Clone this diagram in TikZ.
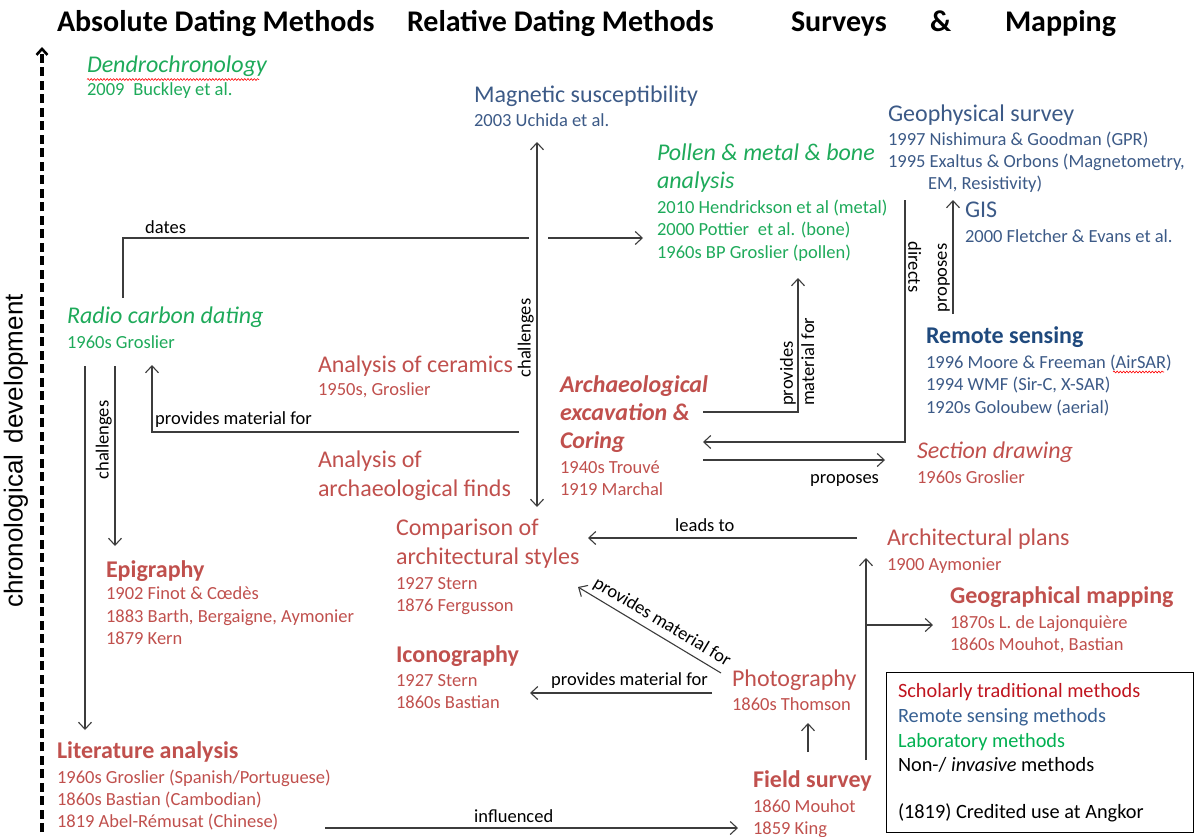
\documentclass[tikz,border=0pt]{standalone}
\usepackage{fontspec}
\setmainfont{Carlito}
\newfontfamily\arialf{Liberation Sans}
\usetikzlibrary{arrows.meta,decorations.pathmorphing}

\definecolor{cred}{RGB}{192,80,77}
\definecolor{cblue}{RGB}{60,90,135}
\definecolor{cdblue}{RGB}{31,73,125}
\definecolor{cgreen}{RGB}{30,170,90}
\definecolor{lred}{RGB}{192,20,30}
\definecolor{lblue}{RGB}{55,96,146}
\definecolor{lgreen}{RGB}{0,176,80}
\definecolor{cline}{RGB}{60,60,60}

\newcommand\fsub{\fontsize{18.5}{22}\selectfont}
\newcommand\fhd{\fontsize{24}{28}\selectfont}
\newcommand\fttl{\fontsize{30}{34}\selectfont\bfseries}
\newcommand\flab{\fontsize{18.5}{22}\selectfont}
\newcommand\fleg{\fontsize{20.3}{24}\selectfont}

\tikzset{
  tl/.style={anchor=base west, inner sep=0pt, outer sep=0pt},
  hd/.style={tl, font=\fhd},
  sb/.style={tl, font=\fsub},
  ttl/.style={tl, font=\fttl},
  lg/.style={tl, font=\fleg},
  lab/.style={font=\flab, text=black, inner sep=0pt},
  conn/.style={draw=cline, line width=1.1pt, -{Straight Barb[length=7pt,width=13pt]}},
  dconn/.style={draw=cline, line width=1.1pt, {Straight Barb[length=7pt,width=13pt]}-{Straight Barb[length=7pt,width=13pt]}},
  plain/.style={draw=cline, line width=1.1pt},
  spell/.style={draw=red, line width=0.6pt, decorate, decoration={snake, amplitude=0.9pt, segment length=3.2pt}}
}

\begin{document}
\begin{tikzpicture}[x=1pt,y=-1pt]
\useasboundingbox (0,0) rectangle (1194,836);

% titles
\node[ttl] (t1) at (57,31) {Absolute Dating Methods};
\node[ttl] (t2) at (407,31) {Relative Dating Methods};
\node[ttl] (t3) at (791,31) {Surveys};
\node[ttl] (t4) at (930,31) {\&};
\node[ttl] (t5) at (1005,31) {Mapping};

% time axis
\coordinate (ax0) at (42,832);
\coordinate (ax1) at (42,47);
\draw[line width=3.4pt, dash pattern=on 9pt off 4.5pt, -{Straight Barb[length=6pt,width=11pt,line width=2.6pt]}] (ax0) -- (ax1);
\node[rotate=90, font=\arialf\fontsize{26}{30}\selectfont, inner sep=0pt] (chrono) at (16,451) {chronological\hspace{0.45em}development};

% Absolute dating
\node[hd, text=cgreen, font=\fhd\itshape] (dendro) at (87,72) {Dendrochronology};
\node[sb, text=cgreen] (dendror) at (87,95) {2009\hspace{0.25em} Buckley et al.};
\draw[spell] (87,79.5) -- (259,79.5);

\node[hd, text=cgreen, font=\fhd\itshape] (radio) at (67,323) {Radio carbon dating};
\node[sb, text=cgreen] (radior) at (67,348) {1960s Groslier};

\node[hd, text=cred, font=\fhd\bfseries] (epi) at (106,577) {Epigraphy};
\node[sb, text=cred] (epi1) at (106,599) {1902 Finot \& Cœdès};
\node[sb, text=cred] (epi2) at (106,622) {1883 Barth, Bergaigne, Aymonier};
\node[sb, text=cred] (epi3) at (106,644) {1879 Kern};

\node[hd, text=cred, font=\fhd\bfseries] (lit) at (57,758) {Literature analysis};
\node[sb, text=cred] (lit1) at (57,783) {1960s Groslier (Spanish/Portuguese)};
\node[sb, text=cred] (lit2) at (57,805) {1860s Bastian (Cambodian)};
\node[sb, text=cred] (lit3) at (57,827) {1819 Abel-Rémusat (Chinese)};

% Relative dating
\node[hd, text=cblue] (mag) at (474,102) {Magnetic susceptibility};
\node[sb, text=cblue] (magr) at (474,126) {2003 Uchida et al.};

\node[hd, text=cred] (cer) at (318,372) {Analysis of ceramics};
\node[sb, text=cred] (cerr) at (318,395) {1950s, Groslier};

\node[hd, text=cred] (finds1) at (318,467) {Analysis of};
\node[hd, text=cred] (finds2) at (318,496) {archaeological finds};

\node[hd, text=cred, font=\fhd\bfseries\itshape] (arch1) at (560,392) {Archaeological};
\node[hd, text=cred, font=\fhd\bfseries\itshape] (arch2) at (560,420) {excavation \&};
\node[hd, text=cred, font=\fhd\bfseries\itshape] (arch3) at (560,448) {Coring};
\node[sb, text=cred] (archr1) at (560,473) {1940s Trouvé};
\node[sb, text=cred] (archr2) at (560,495) {1919 Marchal};

\node[hd, text=cred] (comp1) at (396,535) {Comparison of};
\node[hd, text=cred] (comp2) at (396,564) {architectural styles};
\node[sb, text=cred] (compr1) at (396,589) {1927 Stern};
\node[sb, text=cred] (compr2) at (396,611) {1876 Fergusson};

\node[hd, text=cred, font=\fhd\bfseries] (icon) at (396,662) {Iconography};
\node[sb, text=cred] (iconr1) at (396,686) {1927 Stern};
\node[sb, text=cred] (iconr2) at (396,708) {1860s Bastian};

\node[hd, text=cgreen, font=\fhd\itshape] (pol1) at (657,160) {Pollen \& metal \& bone};
\node[hd, text=cgreen, font=\fhd\itshape] (pol2) at (657,188) {analysis};
\node[sb, text=cgreen] (polr1) at (657,213) {2010 Hendrickson et al (metal)};
\node[sb, text=cgreen] (polr2) at (657,235) {2000 Pottier\hspace{0.25em} et al. (bone)};
\node[sb, text=cgreen] (polr3) at (657,258) {1960s BP Groslier (pollen)};

% Surveys & mapping
\node[hd, text=cblue] (geo) at (888,121) {Geophysical survey};
\node[sb, text=cblue] (geor1) at (888,145) {1997 Nishimura \& Goodman (GPR)};
\node[sb, text=cblue] (geor2) at (888,167) {1995 Exaltus \& Orbons (Magnetometry,};
\node[sb, text=cblue] (geor3) at (928,189) {EM, Resistivity)};

\node[hd, text=cblue] (gis) at (965,217) {GIS};
\node[sb, text=cblue] (gisr) at (965,242) {2000 Fletcher \& Evans et al.};

\node[hd, text=cdblue, font=\fhd\bfseries] (rs) at (926,343) {Remote sensing};
\node[sb, text=cblue] (rs1) at (926,368) {1996 Moore \& Freeman (AirSAR)};
\node[sb, text=cblue] (rs2) at (926,390) {1994 WMF (Sir-C, X-SAR)};
\node[sb, text=cblue] (rs3) at (926,413) {1920s Goloubew (aerial)};
\draw[spell] (1113,372) -- (1164,372);

\node[hd, text=cred, font=\fhd\itshape] (sec) at (917,458) {Section drawing};
\node[sb, text=cred] (secr) at (917,483) {1960s Groslier};

\node[hd, text=cred] (plans) at (887,545) {Architectural plans};
\node[sb, text=cred] (plansr) at (887,570) {1900 Aymonier};

\node[hd, text=cred, font=\fhd\bfseries] (gmap) at (950,603) {Geographical mapping};
\node[sb, text=cred] (gmap1) at (950,628) {1870s L. de Lajonquière};
\node[sb, text=cred] (gmap2) at (950,650) {1860s Mouhot, Bastian};

\node[hd, text=cred] (photo) at (732,686) {Photography};
\node[sb, text=cred] (photor) at (732,710) {1860s Thomson};

\node[hd, text=cred, font=\fhd\bfseries] (field) at (753,787) {Field survey};
\node[sb, text=cred] (field1) at (753,812) {1860 Mouhot};
\node[sb, text=cred] (field2) at (753,834) {1859 King};

% legend
\node[draw=black, line width=0.8pt, minimum width=307pt, minimum height=160pt, anchor=north west, inner sep=0pt] (legend) at (886,672) {};
\node[lg, text=lred] (lg1) at (898,697) {Scholarly traditional methods};
\node[lg, text=lblue] (lg2) at (898,722) {Remote sensing methods};
\node[lg, text=lgreen] (lg3) at (898,747) {Laboratory methods};
\node[lg, text=black] (lg4) at (898,771) {Non-/ \textit{invasive} methods};
\node[lg, text=black] (lg5) at (898,818) {(1819) Credited use at Angkor};

% ---------- connectors ----------
% dates
\coordinate (d0) at (123,298);
\coordinate (d1) at (123,238);
\coordinate (d2) at (529,238);
\coordinate (d3) at (548,238);
\coordinate (d4) at (643,238);
\draw[plain] (d0) -- (d1) -- (d2);
\draw[conn] (d3) -- (d4);
\node[lab, anchor=base west] (ldates) at (145,233) {dates};

% challenges (middle, double headed)
\coordinate (c0) at (537,507);
\coordinate (c1) at (537,142);
\draw[dconn] (c0) -- (c1);
\node[lab, rotate=90, anchor=south] (lchal1) at (534,338) {challenges};

% provides material for (to radio carbon)
\coordinate (p0) at (519,432);
\coordinate (p1) at (152,432);
\coordinate (p2) at (152,365);
\draw[conn] (p0) -- (p1) -- (p2);
\node[lab, anchor=base west] (lprov1) at (155,424) {provides material for};

% radio -> epigraphy (challenges)
\coordinate (e0) at (115,366);
\coordinate (e1) at (115,546);
\draw[conn] (e0) -- (e1);
\node[lab, rotate=90, anchor=south] (lchal2) at (112,440) {challenges};

% radio -> literature
\coordinate (l0) at (85,366);
\coordinate (l1) at (85,730);
\draw[conn] (l0) -- (l1);

% excavation -> pollen
\coordinate (x0) at (703,412);
\coordinate (x1) at (798,412);
\coordinate (x2) at (798,278);
\draw[conn] (x0) -- (x1) -- (x2);
\node[lab, rotate=90, anchor=south west] (lprov2a) at (796,406) {provides};
\node[lab, rotate=90, anchor=north west] (lprov2b) at (801,406) {material for};

% directs
\coordinate (g0) at (905,200);
\coordinate (g1) at (905,442);
\coordinate (g2) at (703,442);
\draw[conn] (g0) -- (g1) -- (g2);
\node[lab, rotate=-90, anchor=south] (ldir) at (908,267) {directs};

% proposes (remote sensing -> GIS)
\coordinate (r0) at (953,314);
\coordinate (r1) at (953,200);
\draw[conn] (r0) -- (r1);
\node[lab, rotate=90, anchor=south] (lprop1) at (950,278) {proposes};

% proposes (excavation -> section drawing)
\coordinate (s0) at (703,460);
\coordinate (s1) at (885,460);
\draw[conn] (s0) -- (s1);
\node[lab, anchor=base west] (lprop2) at (810,483) {proposes};

% leads to
\coordinate (a0) at (857,538);
\coordinate (a1) at (588,538);
\draw[conn] (a0) -- (a1);
\node[lab, anchor=base west] (llead) at (675,531) {leads to};

% field survey -> plans, mapping
\coordinate (f0) at (866,760);
\coordinate (f1) at (866,558);
\coordinate (fm) at (866,625);
\coordinate (f2) at (933,625);
\draw[conn] (f0) -- (f1);
\draw[conn] (fm) -- (f2);

% photography -> comparison (diagonal)
\coordinate (h0) at (721,673);
\coordinate (h1) at (578,587);
\draw[conn] (h0) -- (h1);
\path (h1) -- node[lab, sloped, above=5pt, pos=0.54] (lprov3) {provides material for} (h0);

% photography -> iconography
\coordinate (i0) at (712,693);
\coordinate (i1) at (530,693);
\draw[conn] (i0) -- (i1);
\node[lab, anchor=base west] (lprov4) at (551,685) {provides material for};

% field survey -> photography
\coordinate (fp0) at (808,752);
\coordinate (fp1) at (808,723);
\draw[conn] (fp0) -- (fp1);

% influenced
\coordinate (n0) at (325,828);
\coordinate (n1) at (738,828);
\draw[conn] (n0) -- (n1);
\node[lab, anchor=base west] (linf) at (474,822) {influenced};
\end{tikzpicture}
\end{document}
